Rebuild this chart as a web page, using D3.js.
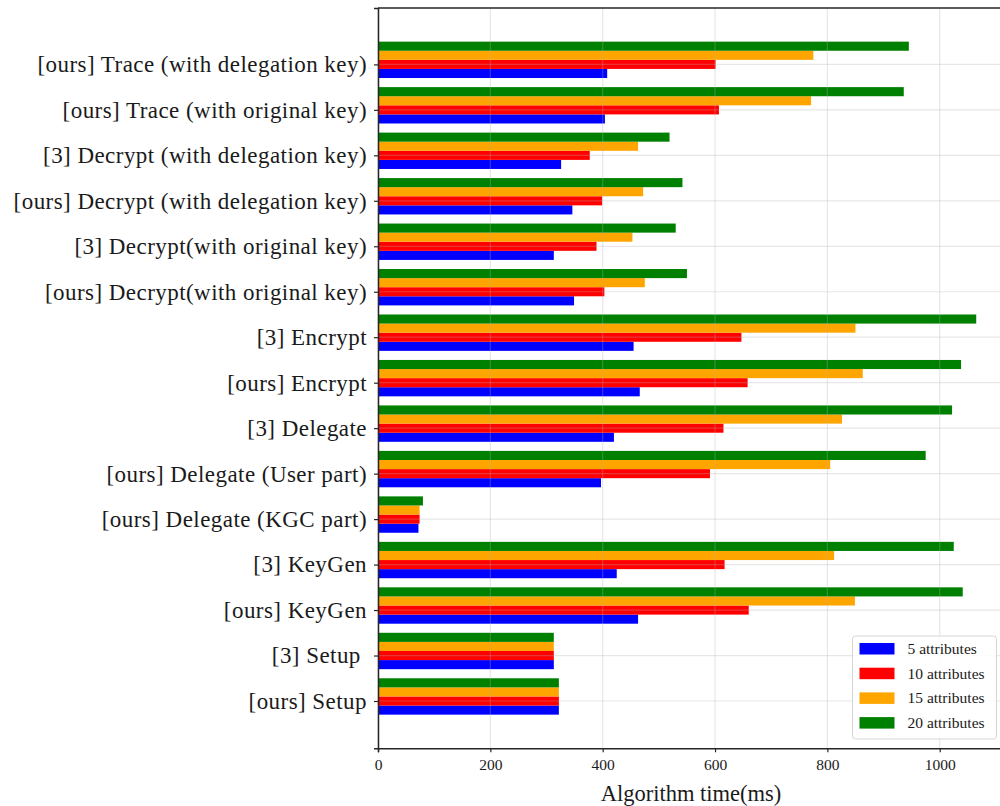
<!DOCTYPE html>
<html>
<head>
<meta charset="utf-8">
<script src="https://cdn.jsdelivr.net/npm/d3@7"></script>
<style>
  html, body { margin: 0; padding: 0; background: #fff; }
  svg { display: block; }
  text { font-family: "Liberation Serif", "DejaVu Serif", serif; fill: #1a1a1a; }
</style>
</head>
<body>
<svg id="chart" width="1000" height="806"></svg>
<script>
// ---- data (bottom to top) ----
const categories = [
  "[ours] Setup",
  "[3] Setup ",
  "[ours] KeyGen",
  "[3] KeyGen",
  "[ours] Delegate (KGC part)",
  "[ours] Delegate (User part)",
  "[3] Delegate",
  "[ours] Encrypt",
  "[3] Encrypt",
  "[ours] Decrypt(with original key)",
  "[3] Decrypt(with original key)",
  "[ours] Decrypt (with delegation key)",
  "[3] Decrypt (with delegation key)",
  "[ours] Trace (with original key)",
  "[ours] Trace (with delegation key)"
];
const seriesNames = ["5 attributes", "10 attributes", "15 attributes", "20 attributes"];
const seriesColors = ["#0000ff", "#ff0000", "#ffa500", "#008000"];
const attr5  = [322, 313, 463, 425, 72, 397, 420, 466, 455, 349, 313, 346, 326, 404, 408];
const attr10 = [322, 313, 660, 617, 74, 591, 615, 658, 647, 403, 389, 399, 377, 607, 601];
const attr15 = [322, 313, 849, 812, 74, 805, 826, 863, 850, 475, 453, 472, 463, 771, 775];
const attr20 = [322, 313, 1041, 1025, 80, 975, 1022, 1038, 1065, 550, 530, 542, 519, 936, 945];
const xTicks = [0, 200, 400, 600, 800, 1000];
const xLabel = "Algorithm time(ms)";

const seriesValues = [attr5, attr10, attr15, attr20];
const barH = 0.2;
const offsets = [-0.2, 0, 0.2, 0.4];

// ---- layout ----
const svg = d3.select("#chart");
const mLeft = 378, mRight = 1006, mTop = 8, mBottom = 748.3;
const x = d3.scaleLinear().domain([0, 1118]).range([mLeft, mRight]);
const y = d3.scaleLinear().domain([-1.04, 15.24]).range([mBottom, mTop]);

const plot = svg.append("g");

// bars
seriesValues.forEach((vals, s) => {
  plot.append("g")
    .selectAll("rect")
    .data(vals)
    .join("rect")
    .attr("x", x(0))
    .attr("y", (d, i) => y(i + offsets[s] + barH / 2))
    .attr("width", d => x(d) - x(0))
    .attr("height", (d, i) => y(i + offsets[s] - barH / 2) - y(i + offsets[s] + barH / 2))
    .attr("fill", seriesColors[s]);
});

// grid (drawn above bars, as in matplotlib)
const grid = svg.append("g").attr("stroke", "#b0b0b0").attr("stroke-opacity", 0.3).attr("stroke-width", 1.2);
xTicks.forEach(t => grid.append("line").attr("x1", x(t)).attr("x2", x(t)).attr("y1", mTop).attr("y2", mBottom));
categories.forEach((c, i) => grid.append("line").attr("x1", mLeft).attr("x2", mRight).attr("y1", y(i)).attr("y2", y(i)));

// x axis
const xAxis = d3.axisBottom(x).tickValues(xTicks).tickSize(4).tickPadding(7).tickFormat(d3.format("d"));
const gx = svg.append("g").attr("transform", `translate(0,${mBottom})`).call(xAxis);
gx.select(".domain").attr("stroke", "#262626").attr("stroke-width", 1.5);
gx.selectAll(".tick line").attr("stroke", "#262626").attr("stroke-width", 1.2);
gx.selectAll(".tick text").attr("font-family", "Liberation Serif").attr("font-size", 15.5).attr("fill", "#1a1a1a");

// y axis
const yAxis = d3.axisLeft(y).tickValues(d3.range(categories.length)).tickSize(4).tickPadding(7)
  .tickFormat(i => categories[i]);
const gy = svg.append("g").attr("transform", `translate(${mLeft},0)`).call(yAxis);
gy.select(".domain").attr("stroke", "#262626").attr("stroke-width", 1.5);
gy.selectAll(".tick line").attr("stroke", "#262626").attr("stroke-width", 1.2);
gy.selectAll(".tick text").attr("font-family", "Liberation Serif").attr("font-size", 23)
  .attr("letter-spacing", 0.45).style("white-space", "pre").attr("fill", "#1a1a1a");

// top spine
svg.append("line").attr("x1", mLeft).attr("x2", mRight + 10).attr("y1", mTop).attr("y2", mTop)
  .attr("stroke", "#262626").attr("stroke-width", 1.5);

// x label
svg.append("text").attr("x", 691).attr("y", 801).attr("text-anchor", "middle")
  .attr("font-size", 22.5).text(xLabel);

// legend
const lg = svg.append("g").attr("transform", "translate(852.5,636)");
lg.append("rect").attr("width", 144).attr("height", 103).attr("rx", 3)
  .attr("fill", "#fff").attr("fill-opacity", 0.85).attr("stroke", "#d6d6d6").attr("stroke-width", 1);
seriesNames.forEach((n, s) => {
  const row = lg.append("g").attr("transform", `translate(7,${7 + s * 24.7})`);
  row.append("rect").attr("width", 35).attr("height", 11.5).attr("fill", seriesColors[s]);
  row.append("text").attr("x", 48).attr("y", 11).attr("font-size", 15.5).text(n);
});
</script>
</body>
</html>
